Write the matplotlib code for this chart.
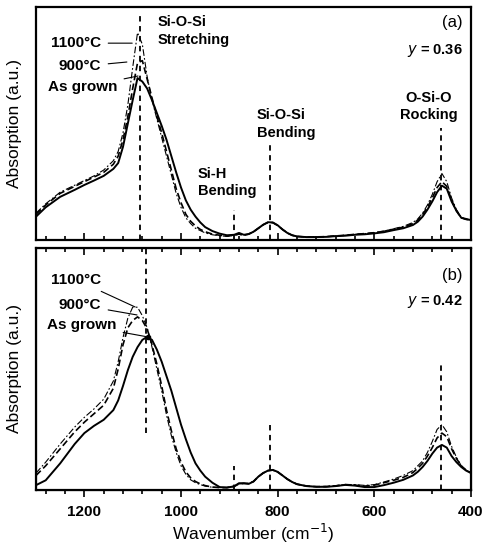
import numpy as np
import matplotlib
matplotlib.use("Agg")
import matplotlib.pyplot as plt
from matplotlib.ticker import MultipleLocator

plt.rcParams['font.family'] = ['Liberation Sans', 'DejaVu Sans']

# wavenumber grid (cm-1) shared by all spectra
wn = [1300, 1280, 1250, 1220, 1200, 1180, 1160, 1140, 1130, 1120, 1110, 1100,
      1090, 1080, 1070, 1060, 1050, 1040, 1030, 1020, 1010, 1000, 990, 980,
      970, 960, 950, 935, 920, 905, 890, 880, 870, 860, 850, 840, 830, 820,
      810, 800, 790, 780, 770, 760, 740, 720, 700, 680, 660, 640, 620, 600,
      580, 560, 540, 520, 510, 500, 490, 480, 470, 460, 450, 440, 430, 420,
      410, 400]

# panel (a), y = 0.36
a_grown = [0.10, 0.14, 0.185, 0.215, 0.236, 0.255, 0.275, 0.305, 0.33, 0.40, 0.50, 0.60,
           0.695, 0.68, 0.65, 0.60, 0.545, 0.49, 0.43, 0.36, 0.29, 0.225, 0.17, 0.13,
           0.10, 0.075, 0.055, 0.038, 0.027, 0.02, 0.022, 0.03, 0.022, 0.025, 0.035, 0.05, 0.065, 0.076,
           0.075, 0.063, 0.045, 0.03, 0.02, 0.015, 0.012, 0.012, 0.013, 0.016, 0.018, 0.022, 0.024, 0.028,
           0.033, 0.042, 0.05, 0.064, 0.078, 0.10, 0.13, 0.165, 0.205, 0.233, 0.22, 0.165, 0.125, 0.095,
           0.09, 0.085]
a_900 = [0.11, 0.15, 0.20, 0.23, 0.25, 0.27, 0.29, 0.325, 0.36, 0.43, 0.53, 0.65,
         0.76, 0.77, 0.69, 0.61, 0.53, 0.46, 0.38, 0.30, 0.22, 0.16, 0.11, 0.08,
         0.06, 0.045, 0.035, 0.025, 0.02, 0.016, 0.02, 0.025, 0.02, 0.025, 0.035, 0.05, 0.065, 0.075,
         0.074, 0.062, 0.045, 0.03, 0.02, 0.015, 0.012, 0.013, 0.014, 0.017, 0.02, 0.024, 0.027, 0.031,
         0.037, 0.046, 0.055, 0.07, 0.085, 0.11, 0.14, 0.18, 0.225, 0.25, 0.23, 0.17, 0.125, 0.095,
         0.088, 0.085]
a_1100 = [0.115, 0.155, 0.205, 0.235, 0.255, 0.275, 0.30, 0.34, 0.38, 0.46, 0.58, 0.74,
          0.89, 0.84, 0.70, 0.60, 0.52, 0.44, 0.36, 0.28, 0.20, 0.14, 0.095, 0.07,
          0.05, 0.04, 0.03, 0.022, 0.018, 0.015, 0.02, 0.024, 0.02, 0.025, 0.035, 0.05, 0.065, 0.075,
          0.074, 0.062, 0.045, 0.03, 0.02, 0.015, 0.012, 0.013, 0.014, 0.017, 0.02, 0.024, 0.027, 0.031,
          0.038, 0.048, 0.058, 0.075, 0.09, 0.115, 0.15, 0.195, 0.25, 0.285, 0.25, 0.18, 0.13, 0.097,
          0.088, 0.085]

# panel (b), y = 0.42
b_grown = [0.02, 0.04, 0.11, 0.19, 0.235, 0.265, 0.29, 0.33, 0.37, 0.43, 0.495, 0.55,
           0.59, 0.62, 0.633, 0.62, 0.58, 0.53, 0.47, 0.41, 0.34, 0.27, 0.21, 0.155,
           0.11, 0.08, 0.055, 0.03, 0.012, 0.01, 0.015, 0.028, 0.028, 0.025, 0.035, 0.055, 0.07, 0.08,
           0.083, 0.075, 0.06, 0.045, 0.033, 0.024, 0.016, 0.013, 0.013, 0.016, 0.021, 0.018, 0.012, 0.012,
           0.02, 0.03, 0.042, 0.06, 0.075, 0.095, 0.12, 0.15, 0.175, 0.186, 0.175, 0.14, 0.115, 0.095,
           0.08, 0.07]
b_900 = [0.06, 0.10, 0.17, 0.24, 0.28, 0.315, 0.35, 0.42, 0.50, 0.60, 0.67, 0.70,
         0.715, 0.70, 0.665, 0.60, 0.52, 0.43, 0.33, 0.245, 0.17, 0.115, 0.075, 0.05,
         0.035, 0.025, 0.018, 0.012, 0.01, 0.01, 0.015, 0.025, 0.027, 0.027, 0.035, 0.055, 0.07, 0.08,
         0.082, 0.074, 0.06, 0.045, 0.033, 0.024, 0.016, 0.014, 0.014, 0.017, 0.022, 0.02, 0.016, 0.02,
         0.03, 0.04, 0.052, 0.072, 0.09, 0.11, 0.14, 0.175, 0.215, 0.235, 0.22, 0.17, 0.13, 0.10,
         0.082, 0.072]
b_1100 = [0.07, 0.115, 0.19, 0.26, 0.30, 0.335, 0.375, 0.45, 0.53, 0.63, 0.71, 0.755,
          0.755, 0.72, 0.67, 0.59, 0.50, 0.41, 0.31, 0.225, 0.155, 0.10, 0.065, 0.042,
          0.03, 0.022, 0.016, 0.011, 0.01, 0.01, 0.015, 0.025, 0.027, 0.027, 0.035, 0.055, 0.07, 0.08,
          0.082, 0.074, 0.06, 0.045, 0.033, 0.024, 0.016, 0.014, 0.015, 0.018, 0.023, 0.022, 0.019, 0.022,
          0.033, 0.045, 0.06, 0.08, 0.10, 0.12, 0.155, 0.20, 0.25, 0.27, 0.24, 0.18, 0.135, 0.10,
          0.082, 0.072]

# vertical marker lines: (wavenumber, ymin, ymax)
marks_a = [(1085, 0.0, 0.975), (890, 0.0, 0.13), (815, 0.0, 0.415), (462, 0.0, 0.48)]
marks_b = [(1072, 0.235, 1.0), (890, 0.0, 0.10), (815, 0.0, 0.28), (462, 0.0, 0.515)]

fig = plt.figure(figsize=(4.87, 5.44), dpi=100)
ax1 = fig.add_axes([0.074, 0.559, 0.893, 0.428])
ax2 = fig.add_axes([0.074, 0.0993, 0.893, 0.445])

def draw_panel(ax, grown, s900, s1100, marks):
    ax.plot(wn, grown, color='black', lw=1.4, ls='-')
    ax.plot(wn, s900, color='black', lw=1.2, ls=(0, (4, 2)))
    ax.plot(wn, s1100, color='black', lw=0.8, ls=(0, (6, 2, 1.5, 2)))
    for x, y0, y1 in marks:
        ax.plot([x, x], [y0, y1], color='black', lw=1.3, ls=(0, (3, 2.5)))
    ax.set_xlim(1300, 400)
    ax.set_ylim(0, 1)
    ax.set_yticks([])
    ax.xaxis.set_major_locator(MultipleLocator(200))
    ax.xaxis.set_minor_locator(MultipleLocator(40))
    for s in ax.spines.values():
        s.set_linewidth(1.6)
    ax.set_ylabel('Absorption (a.u.)', fontsize=12.5)
    ax.yaxis.set_label_coords(-0.033, 0.5)

draw_panel(ax1, a_grown, a_900, a_1100, marks_a)
draw_panel(ax2, b_grown, b_900, b_1100, marks_b)

ax1.tick_params(axis='x', which='both', direction='in', labelbottom=False)
ax1.tick_params(axis='x', which='major', length=5, width=1.2)
ax1.tick_params(axis='x', which='minor', length=3, width=1.2)

ax2.tick_params(axis='x', which='both', direction='out', pad=6)
ax2.tick_params(axis='x', which='major', length=5, width=1.2, labelsize=11)
ax2.tick_params(axis='x', which='minor', length=3, width=1.2)
for lab in ax2.get_xticklabels():
    lab.set_fontweight('bold')
ax2.set_xlabel('Wavenumber (cm$^{-1}$)', fontsize=12.5, labelpad=2)

top = ax2.twiny()
top.set_xlim(1300, 400)
top.xaxis.set_major_locator(MultipleLocator(200))
top.xaxis.set_minor_locator(MultipleLocator(40))
top.tick_params(axis='x', which='both', direction='in', labeltop=False)
top.tick_params(axis='x', which='major', length=5, width=1.2)
top.tick_params(axis='x', which='minor', length=3, width=1.2)

fs = 10.5
bold = dict(fontsize=fs, fontweight='bold')
lbl = dict(fontsize=11, fontweight='bold')
line = dict(arrowstyle='-', lw=0.8, color='black', shrinkA=3, shrinkB=0)

# panel (a) text
ax1.text(1048, 0.965, 'Si-O-Si\nStretching', ha='left', va='top', linespacing=1.3, **bold)
ax1.text(965, 0.315, 'Si-H\nBending', ha='left', va='top', linespacing=1.3, **bold)
ax1.text(843, 0.565, 'Si-O-Si\nBending', ha='left', va='top', linespacing=1.3, **bold)
ax1.text(487, 0.64, 'O-Si-O\nRocking', ha='center', va='top', multialignment='center',
         linespacing=1.3, **bold)
ax1.text(0.98, 0.935, '(a)', transform=ax1.transAxes, ha='right', va='center', fontsize=12)
ax1.text(0.98, 0.815, r'$\bf{\it{y}}$ = 0.36', transform=ax1.transAxes, ha='right',
         va='center', **bold)
ax1.annotate('1100°C', xy=(1101, 0.845), xytext=(1165, 0.845), ha='right', va='center',
             arrowprops=line, **lbl)
ax1.annotate('900°C', xy=(1112, 0.764), xytext=(1165, 0.745), ha='right', va='center',
             arrowprops=line, **lbl)
ax1.annotate('As grown', xy=(1089, 0.704), xytext=(1132, 0.655), ha='right', va='center',
             arrowprops=line, **lbl)

# panel (b) text
ax2.text(0.98, 0.888, '(b)', transform=ax2.transAxes, ha='right', va='center', fontsize=12)
ax2.text(0.98, 0.777, r'$\bf{\it{y}}$ = 0.42', transform=ax2.transAxes, ha='right',
         va='center', **bold)
ax2.annotate('1100°C', xy=(1095, 0.756), xytext=(1165, 0.868), ha='right', va='center',
             arrowprops=line, **lbl)
ax2.annotate('900°C', xy=(1091, 0.723), xytext=(1165, 0.764), ha='right', va='center',
             arrowprops=line, **lbl)
ax2.annotate('As grown', xy=(1068, 0.632), xytext=(1134, 0.682), ha='right', va='center',
             arrowprops=line, **lbl)
ax2.plot([1068], [0.632], 'o', color='black', ms=3)

fig.savefig('out.png', dpi=100)
